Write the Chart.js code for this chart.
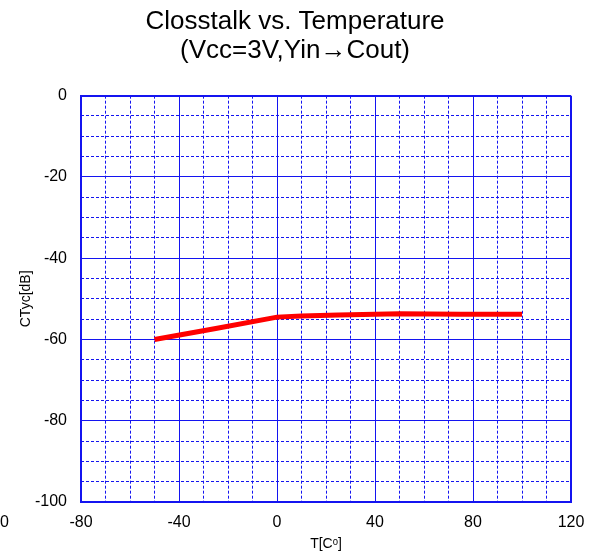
<!DOCTYPE html>
<html>
<head>
<meta charset="utf-8">
<script src="https://cdn.jsdelivr.net/npm/chart.js@4.4.0/dist/chart.umd.min.js"></script>
<style>
    html, body { margin: 0; padding: 0; background: #fff; }
    #contenedor { width: 590px; height: 556px; }
</style>
</head>
<body>
<div id="contenedor"><canvas id="graficoCrosstalk"></canvas></div>
<script>
// Datos
const temperaturas = [-50, -25, 0, 10, 25, 50, 75, 100];
const crosstalk = [-60, -57.3, -54.5, -54.2, -54.0, -53.7, -53.8, -53.8];
const ticksX = [-80, -40, 0, 40, 80, 120];
const ticksY = [-100, -80, -60, -40, -20, 0];
const titulo = ['Closstalk vs. Temperature', '(Vcc=3V,Yin\u2192Cout)'];
const tituloX = 'T[C\u1D52]';
const tituloY = 'CTyc[dB]';
const etiquetaSuelta = '0';

const azul = '#1414f0';
const fuente = "'Liberation Sans', Arial, 'DejaVu Sans', sans-serif";

// Plugin para la etiqueta "0" suelta a la izquierda
const etiquetaExtra = {
    id: 'etiquetaExtra',
    afterDraw(chart) {
        const ctx = chart.ctx;
        ctx.save();
        ctx.font = '16px ' + fuente;
        ctx.fillStyle = '#000';
        ctx.textAlign = 'center';
        ctx.textBaseline = 'middle';
        ctx.fillText(etiquetaSuelta, 4.5, chart.chartArea.bottom + 21);
        ctx.restore();
    }
};

// Quitar el relleno extra que Chart.js deja para las etiquetas de los extremos
function sinRellenoLateral(scale) {
    scale.paddingLeft = 0;
    scale.paddingRight = 0;
}

const ctx = document.getElementById('graficoCrosstalk').getContext('2d');
new Chart(ctx, {
    type: 'line',
    data: {
        datasets: [{
            data: temperaturas.map((t, i) => ({ x: t, y: crosstalk[i] })),
            borderColor: '#ff0000',
            borderWidth: 5,
            borderCapStyle: 'butt',
            pointRadius: 0,
            tension: 0,
            fill: false,
            xAxisID: 'x',
            yAxisID: 'y'
        }]
    },
    options: {
        responsive: true,
        maintainAspectRatio: false,
        animation: false,
        layout: { padding: 0 },
        plugins: {
            legend: { display: false },
            tooltip: { enabled: false },
            title: {
                display: true,
                text: titulo,
                color: '#000',
                font: { family: fuente, size: 26, weight: 'normal', lineHeight: 1.09 },
                padding: { top: 8, bottom: 31 }
            }
        },
        scales: {
            x: {
                type: 'linear',
                position: 'bottom',
                min: -80,
                max: 120,
                afterBuildTicks: scale => { scale.ticks = ticksX.map(v => ({ value: v })); },
                afterFit: scale => { scale.height = 54; sinRellenoLateral(scale); },
                ticks: { color: '#000', font: { family: fuente, size: 16 }, padding: 11 },
                grid: {
                    color: azul,
                    lineWidth: c => (c.tick && c.tick.value === 120 ? 2 : 1),
                    drawTicks: false
                },
                border: { display: true, color: azul, width: 2 },
                title: {
                    display: true,
                    text: tituloX,
                    color: '#000',
                    font: { family: fuente, size: 14 },
                    padding: { top: 0, bottom: 3 }
                }
            },
            xMenor: {
                type: 'linear',
                position: 'bottom',
                min: -80,
                max: 120,
                afterFit: scale => { scale.height = 0; sinRellenoLateral(scale); },
                ticks: { display: false, stepSize: 10 },
                grid: {
                    color: c => (c.tick && Math.abs(c.tick.value % 40) < 0.01 ? 'rgba(0,0,0,0)' : azul),
                    lineWidth: 1,
                    drawTicks: false
                },
                border: { display: false, dash: [3, 2] }
            },
            y: {
                type: 'linear',
                position: 'left',
                min: -100,
                max: 0,
                afterBuildTicks: scale => { scale.ticks = ticksY.map(v => ({ value: v })); },
                afterFit: scale => { scale.width = 81; },
                ticks: { color: '#000', font: { family: fuente, size: 16 }, padding: 14 },
                grid: {
                    color: azul,
                    lineWidth: c => (c.tick && c.tick.value === 0 ? 2 : 1),
                    drawTicks: false
                },
                border: { display: true, color: azul, width: 2 },
                title: {
                    display: true,
                    text: tituloY,
                    color: '#000',
                    font: { family: fuente, size: 14 },
                    padding: { top: 18, bottom: 0 }
                }
            },
            yMenor: {
                type: 'linear',
                position: 'left',
                min: -100,
                max: 0,
                afterFit: scale => { scale.width = 0; },
                ticks: { display: false, stepSize: 5 },
                grid: {
                    color: c => (c.tick && Math.abs(c.tick.value % 20) < 0.01 ? 'rgba(0,0,0,0)' : azul),
                    lineWidth: 1,
                    drawTicks: false
                },
                border: { display: false, dash: [3, 2] }
            },
            yDerecha: {
                type: 'linear',
                position: 'right',
                min: -100,
                max: 0,
                afterFit: scale => { scale.width = 19; },
                ticks: { display: false },
                grid: { display: false, drawTicks: false },
                border: { display: false }
            }
        }
    },
    plugins: [etiquetaExtra]
});
</script>
</body>
</html>
